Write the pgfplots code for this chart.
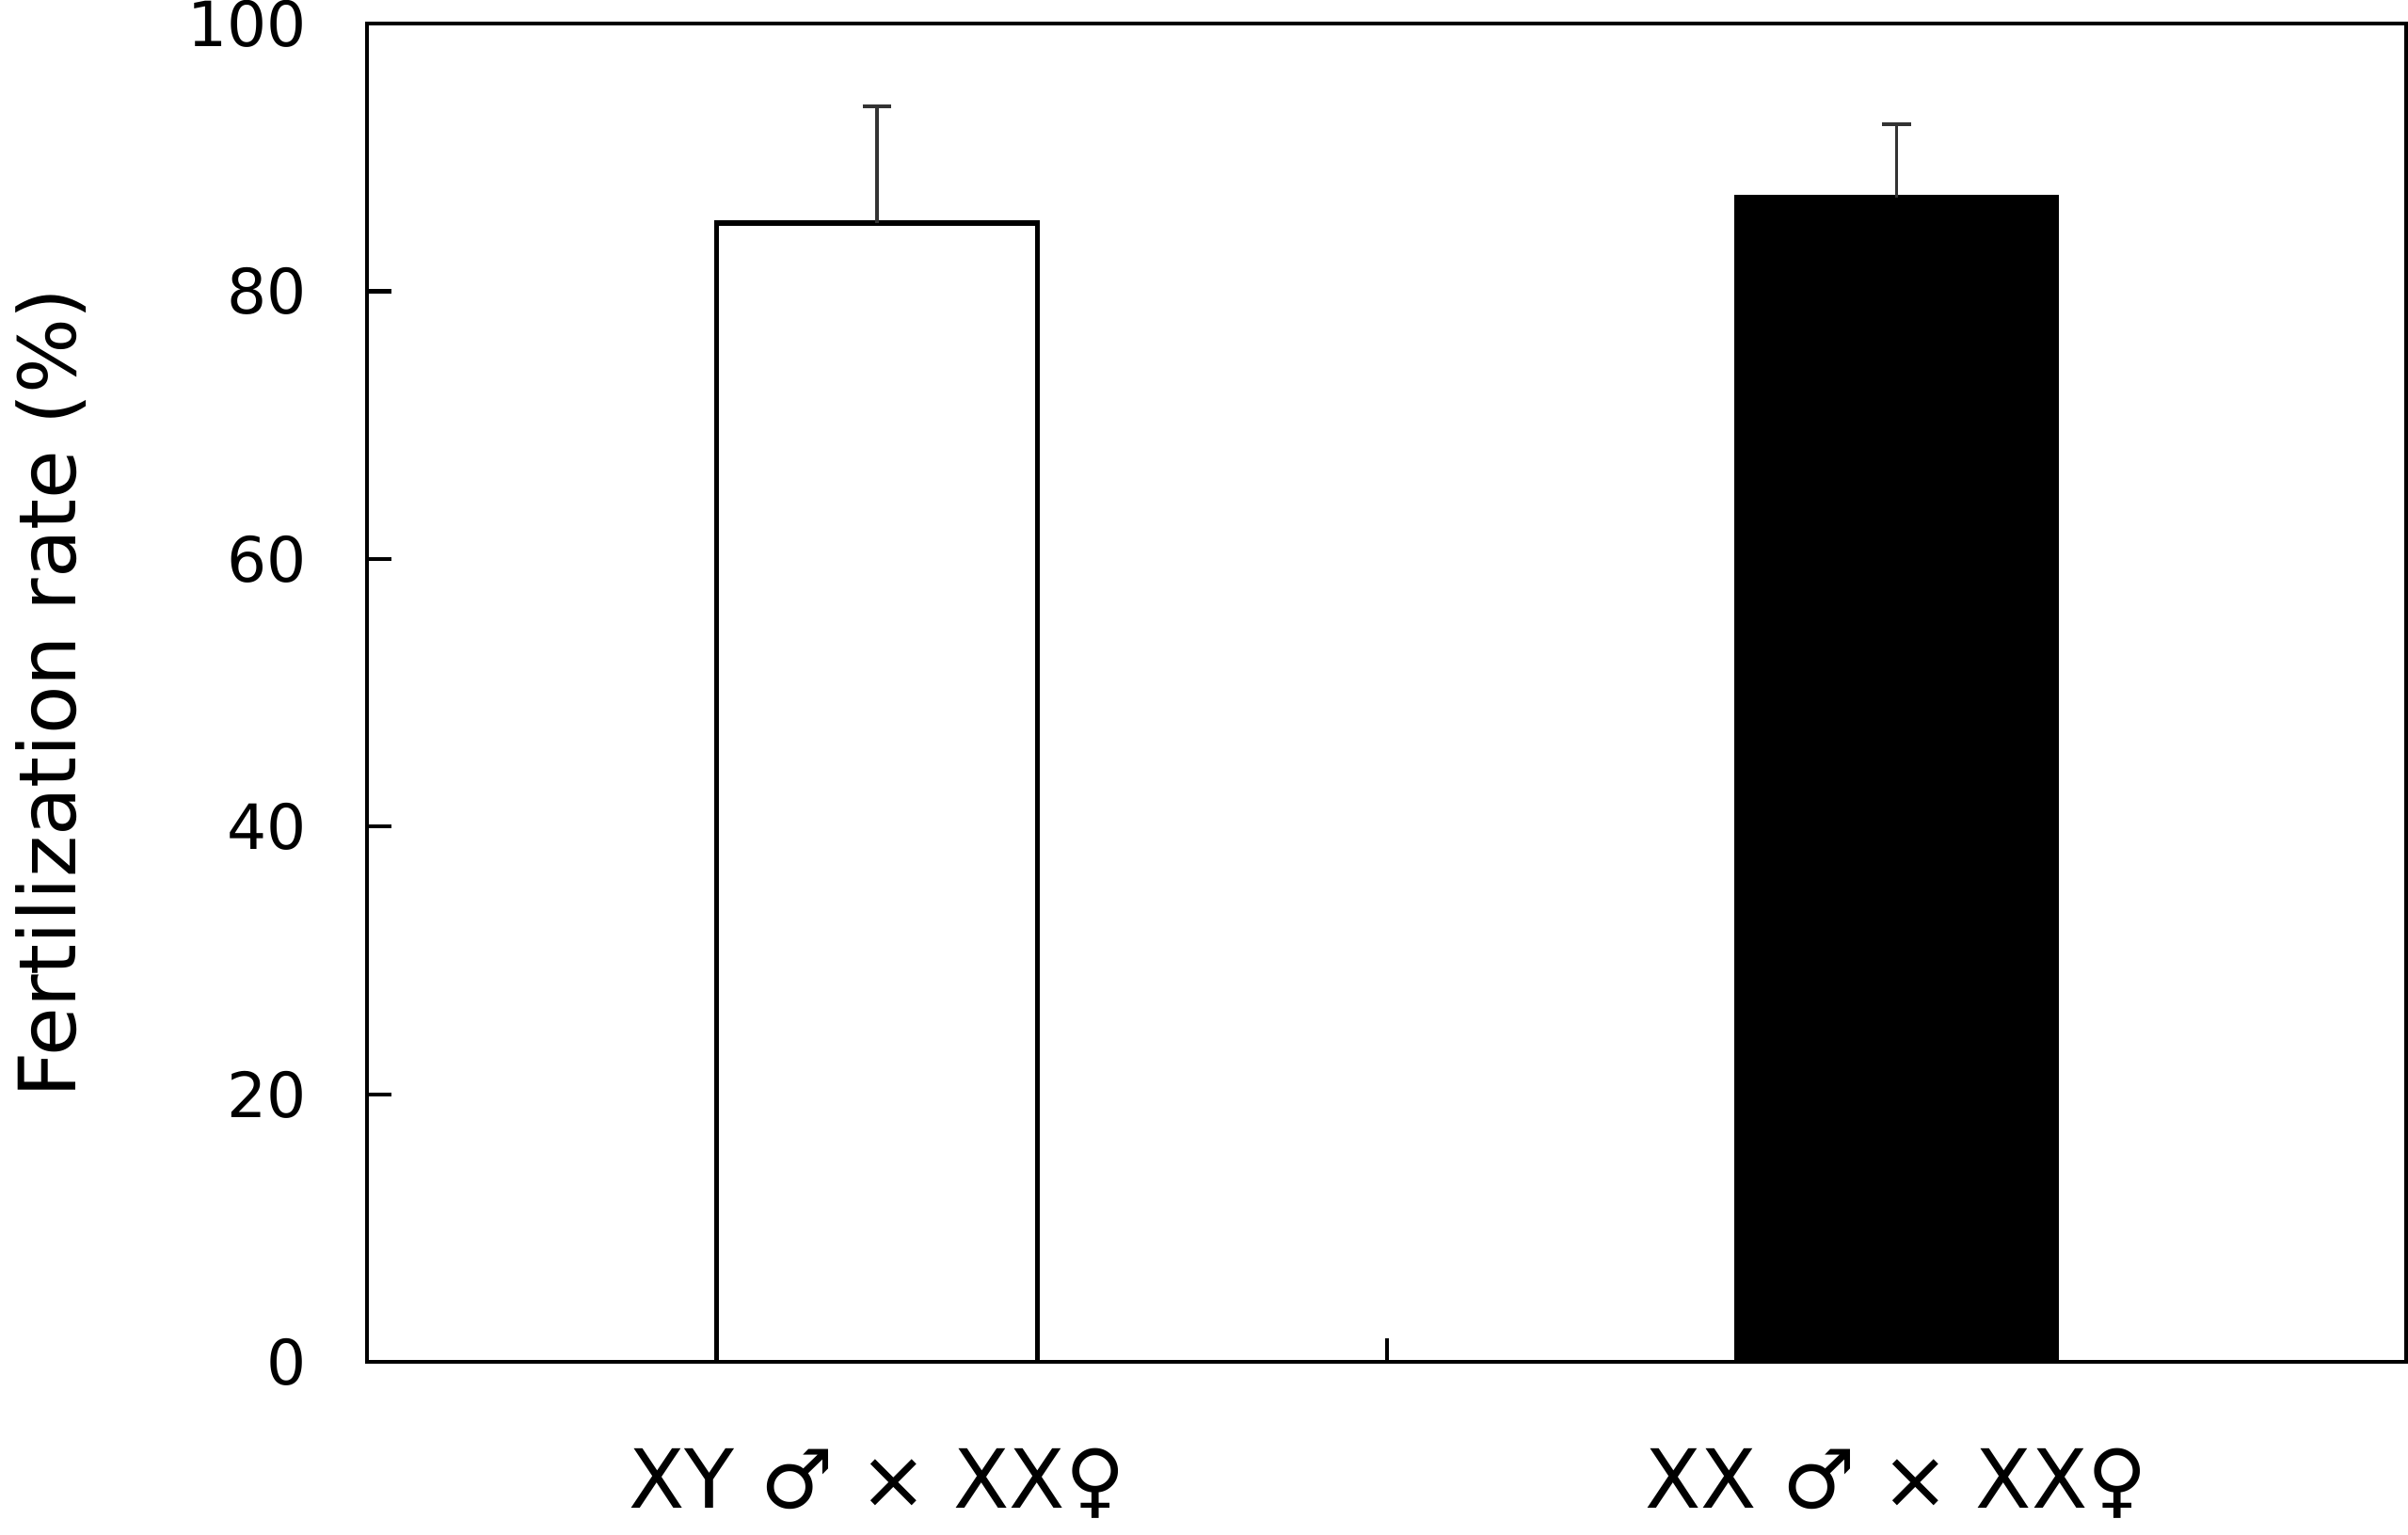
\documentclass[border=0pt]{standalone}
\usepackage{fontspec}
\setmainfont{DejaVu Sans}
\usepackage{pgfplots}
\pgfplotsset{compat=1.18}
\begin{document}
\begin{tikzpicture}
\begin{axis}[
  scale only axis,
  width=425pt, height=279pt,
  xmin=0, xmax=2, ymin=0, ymax=100,
  ybar, bar width=0.314,
  axis line style={line width=0.8pt},
  tick style={line width=0.8pt, black},
  tick align=inside,
  xtick pos=bottom, ytick pos=left,
  major tick length=5pt,
  ytick={0,20,40,60,80,100},
  /pgf/number format/assume math mode=true,
  yticklabel style={font=\fontsize{13}{15}\selectfont, inner sep=0pt, xshift=-12.5pt},
  xtick={1}, xticklabels={},
  extra x ticks={0.5,1.5},
  extra x tick labels={XY ♂ × XX♀, XX ♂ × XX♀},
  extra x tick style={major tick length=0pt, xticklabel style={font=\fontsize{17}{19}\selectfont, yshift=-14.5pt}},
  ylabel={Fertilization rate (\%)},
  ylabel style={font=\fontsize{16.5}{19}\selectfont, at={(axis description cs:-0.155,0.5)}, anchor=center},
  axis on top,
]
\addplot[draw=black, fill=white, line width=1pt, bar shift=0pt,
  error bars/.cd, y dir=plus, y explicit,
  error bar style={line width=0.6pt, draw=black!80},
  error mark options={rotate=90, mark size=3pt, line width=0.8pt, draw=black!80}]
  coordinates {(0.5,85.1) +- (0,8.7)};
\addplot[draw=black, fill=black, line width=1pt, bar shift=0pt,
  error bars/.cd, y dir=plus, y explicit,
  error bar style={line width=0.6pt, draw=black!80},
  error mark options={rotate=90, mark size=3pt, line width=0.8pt, draw=black!80}]
  coordinates {(1.5,87.0) +- (0,5.5)};
\end{axis}
\end{tikzpicture}
\end{document}
